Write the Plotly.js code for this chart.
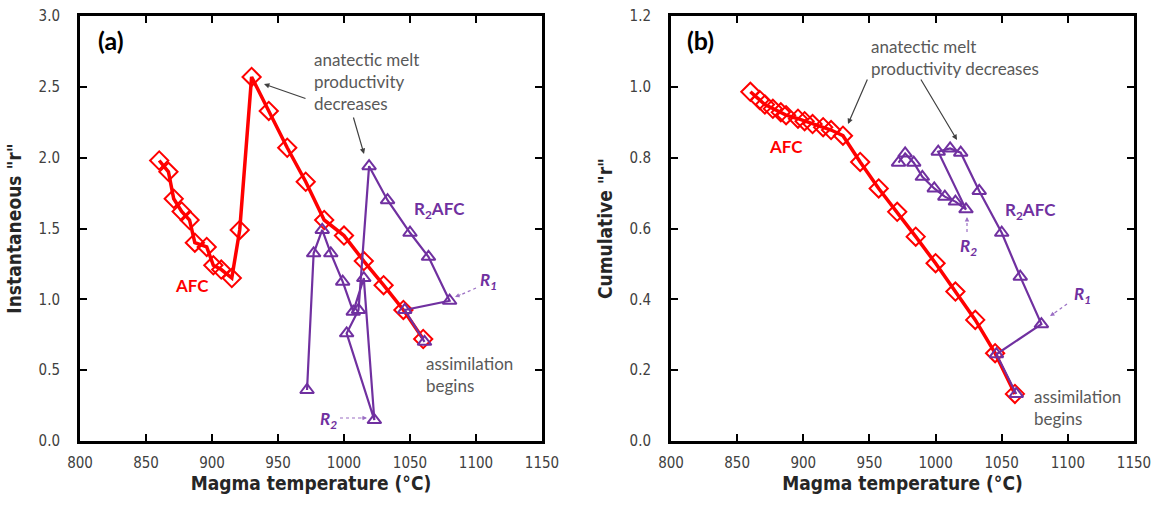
<!DOCTYPE html>
<html>
<head>
<meta charset="utf-8">
<script src="https://cdn.plot.ly/plotly-3.0.1.min.js"></script>
<style>
  html, body { margin: 0; padding: 0; background: #fff; }
  #chart { width: 1165px; height: 508px; }
</style>
</head>
<body>
<div id="chart"></div>
<script>
// AFC model path (starts where assimilation begins, then cools)
const afcTemp = [1060, 1045, 1030, 1015, 1000, 985, 971, 957, 943, 930, 921, 915, 907, 901, 896, 887, 883, 877, 871, 867, 860];
const afcInstR = [0.72, 0.925, 1.10, 1.27, 1.45, 1.56, 1.83, 2.07, 2.33, 2.57, 1.49, 1.15, 1.21, 1.24, 1.37, 1.40, 1.56, 1.62, 1.71, 1.90, 1.98];
const afcCumR = [0.133, 0.248, 0.342, 0.422, 0.502, 0.577, 0.647, 0.713, 0.788, 0.862, 0.878, 0.886, 0.895, 0.903, 0.910, 0.920, 0.928, 0.938, 0.950, 0.963, 0.986];

// R2AFC model path with two recharge events (R1, R2)
const r2afcTemp = [1061, 1046, 1080, 1064, 1050, 1033, 1019, 1011, 1002, 1023, 1015, 1007, 999, 990, 983.5, 977, 972];
const r2afcInstR = [0.70, 0.925, 0.99, 1.30, 1.47, 1.70, 1.94, 0.925, 0.76, 0.148, 1.15, 0.913, 1.125, 1.325, 1.49, 1.325, 0.36];
const r2afcCumR = [0.133, 0.245, 0.330, 0.464, 0.588, 0.706, 0.814, 0.826, 0.817, 0.654, 0.676, 0.690, 0.713, 0.746, 0.786, 0.812, 0.786];

const xTicks = [800, 850, 900, 950, 1000, 1050, 1100, 1150];
const yTicksA = [0.0, 0.5, 1.0, 1.5, 2.0, 2.5, 3.0];
const yTicksB = [0.0, 0.2, 0.4, 0.6, 0.8, 1.0, 1.2];

const RED = '#ff0000';
const PURPLE = '#7030a0';
const NOTE = '#595959';
const W = 1165, H = 508;
const TICKFONT = {family: 'Liberation Sans Narrow, DejaVu Sans Condensed, sans-serif', size: 15, color: '#404040'};
const TITLEFONT = {family: 'Liberation Sans Narrow, DejaVu Sans Condensed, sans-serif', size: 19, color: '#262626', weight: 'bold'};
const LABELFONT = 'Lato, Open Sans, sans-serif';

// pixel -> paper helpers for annotation placement
const px = v => v / W;
const py = v => 1 - v / H;

function afcTrace(x, y, xa, ya) {
  return {
    x: x, y: y, xaxis: xa, yaxis: ya, mode: 'lines+markers', type: 'scatter',
    line: {color: RED, width: 3.5},
    marker: {symbol: 'diamond-open', size: 14, color: RED, line: {width: 2, color: RED}},
    showlegend: false, hoverinfo: 'x+y'
  };
}
function r2Trace(x, y, xa, ya) {
  return {
    x: x, y: y, xaxis: xa, yaxis: ya, mode: 'lines+markers', type: 'scatter',
    line: {color: PURPLE, width: 2.2},
    marker: {symbol: 'triangle-up-open', size: 12, color: PURPLE, line: {width: 2, color: PURPLE}},
    showlegend: false, hoverinfo: 'x+y'
  };
}

const data = [
  afcTrace(afcTemp, afcInstR, 'x', 'y'),
  r2Trace(r2afcTemp, r2afcInstR, 'x', 'y'),
  afcTrace(afcTemp, afcCumR, 'x2', 'y2'),
  r2Trace(r2afcTemp, r2afcCumR, 'x2', 'y2')
];

function xAxis(domain, anchor) {
  return {
    domain: domain, anchor: anchor, range: [800, 1150],
    tickmode: 'array', tickvals: xTicks, ticktext: xTicks.map(String),
    ticks: 'inside', ticklen: 7, tickwidth: 2, tickcolor: '#000',
    showline: true, linewidth: 3, linecolor: '#000', mirror: 'ticks',
    showgrid: false, zeroline: false, tickfont: TICKFONT,
    ticklabelstandoff: 6,
    title: {text: 'Magma temperature (°C)', font: TITLEFONT, standoff: 6}
  };
}
function yAxis(range, ticks, anchor, titleText) {
  return {
    domain: [67 / H, 492 / H], anchor: anchor, range: range,
    tickmode: 'array', tickvals: ticks, ticktext: ticks.map(v => v.toFixed(1)),
    ticks: 'inside', ticklen: 7, tickwidth: 2, tickcolor: '#000',
    showline: true, linewidth: 3, linecolor: '#000', mirror: 'ticks',
    showgrid: false, zeroline: false, tickfont: TICKFONT,
    ticklabelstandoff: 14,
    title: {text: titleText, font: TITLEFONT, standoff: 12}
  };
}

function note(x, y, text, opts) {
  return Object.assign({
    xref: 'paper', yref: 'paper', x: px(x), y: py(y), text: text, showarrow: false,
    font: {family: LABELFONT, size: 17, color: NOTE}, xanchor: 'left', yanchor: 'middle', align: 'left'
  }, opts || {});
}
function arrow(tx, ty, hx, hy, color, width) {
  return {
    xref: 'paper', yref: 'paper', x: px(hx), y: py(hy), ax: tx - hx, ay: ty - hy,
    text: '', showarrow: true, arrowhead: 2, arrowsize: 0.9, arrowwidth: width || 1.2,
    arrowcolor: color || '#404040'
  };
}
function dotted(tx, ty, hx, hy) {
  return {
    type: 'line', xref: 'paper', yref: 'paper',
    x0: px(tx), y0: py(ty), x1: px(hx), y1: py(hy),
    line: {color: '#9b6fc4', width: 1.2, dash: 'dot'}
  };
}

const annotations = [
  // panel (a)
  note(96, 40, '<b>(a)</b>', {font: {family: LABELFONT, size: 25, color: '#000'}}),
  note(312, 82, 'anatectic melt<br>productivity<br>decreases'),
  arrow(307, 99, 264, 84),
  arrow(353, 116, 364, 154),
  note(412, 210, '<b>R<sub>2</sub>AFC</b>', {font: {family: LABELFONT, size: 17, color: PURPLE}}),
  note(173, 285, '<b>AFC</b>', {font: {family: LABELFONT, size: 17, color: RED}}),
  note(478, 281, '<b><i>R<sub>1</sub></i></b>', {font: {family: LABELFONT, size: 17, color: PURPLE}}),
  arrow(462, 294, 455, 297, '#9b6fc4', 1),
  note(318, 420, '<b><i>R<sub>2</sub></i></b>', {font: {family: LABELFONT, size: 17, color: PURPLE}}),
  arrow(360, 418, 367, 418, '#9b6fc4', 1),
  note(424, 374, 'assimilation<br>begins'),
  // panel (b)
  note(685, 40, '<b>(b)</b>', {font: {family: LABELFONT, size: 25, color: '#000'}}),
  note(869, 57, 'anatectic melt<br>productivity decreases'),
  arrow(868, 78, 848, 124),
  arrow(920, 78, 957, 140),
  note(786, 147, '<b>AFC</b>', {font: {family: LABELFONT, size: 17, color: RED}, xanchor: 'center'}),
  note(1003, 211, '<b>R<sub>2</sub>AFC</b>', {font: {family: LABELFONT, size: 17, color: PURPLE}}),
  note(968, 247, '<b><i>R<sub>2</sub></i></b>', {font: {family: LABELFONT, size: 17, color: PURPLE}, xanchor: 'center'}),
  arrow(967, 222, 967, 217, '#9b6fc4', 1),
  note(1072, 295, '<b><i>R<sub>1</sub></i></b>', {font: {family: LABELFONT, size: 17, color: PURPLE}}),
  arrow(1056, 312, 1050, 316, '#9b6fc4', 1),
  note(1032, 407, 'assimilation<br>begins')
];

const shapes = [
  dotted(476, 288, 458, 296),
  dotted(340, 418, 362, 418),
  dotted(967, 232, 967, 220),
  dotted(1067, 304, 1053, 314)
];

const layout = {
  width: W, height: H,
  margin: {l: 0, r: 0, t: 0, b: 0},
  paper_bgcolor: '#fff', plot_bgcolor: '#fff',
  xaxis: xAxis([80 / W, 542 / W], 'y'),
  yaxis: yAxis([0, 3.0], yTicksA, 'x', 'Instantaneous "r"'),
  xaxis2: xAxis([671 / W, 1134 / W], 'y2'),
  yaxis2: yAxis([0, 1.2], yTicksB, 'x2', 'Cumulative "r"'),
  annotations: annotations,
  shapes: shapes,
  showlegend: false
};

Plotly.newPlot('chart', data, layout, {staticPlot: true, displayModeBar: false});
</script>
</body>
</html>
